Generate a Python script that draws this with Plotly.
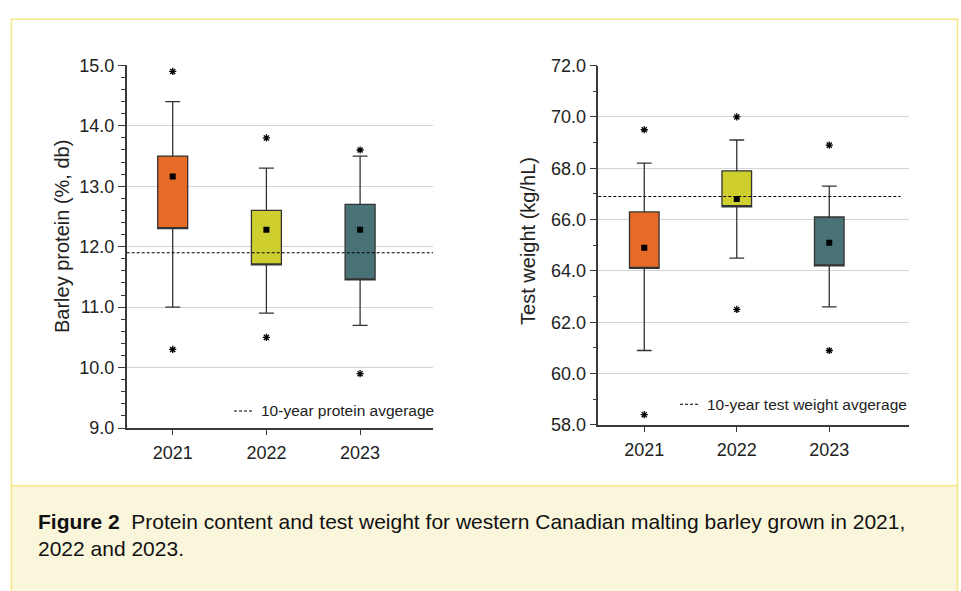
import plotly.graph_objects as go

# ---- data -------------------------------------------------------------
years = ["2021", "2022", "2023"]
box_colors = ["#E76B26", "#CECE2F", "#497276"]

# Barley protein (%, db)
prot_q1 = [12.3, 11.7, 11.45]
prot_q3 = [13.5, 12.6, 12.7]
prot_low = [11.0, 10.9, 10.7]
prot_high = [14.4, 13.3, 13.5]
prot_mean = [13.16, 12.28, 12.28]
prot_out_hi = [14.9, 13.8, 13.6]
prot_out_lo = [10.3, 10.5, 9.9]
prot_avg10 = 11.9

# Test weight (kg/hL)
tw_q1 = [64.1, 66.5, 64.2]
tw_q3 = [66.3, 67.9, 66.1]
tw_low = [60.9, 64.5, 62.6]
tw_high = [68.2, 69.1, 67.3]
tw_mean = [64.9, 66.8, 65.1]
tw_out_hi = [69.5, 70.0, 68.9]
tw_out_lo = [58.4, 62.5, 60.9]
tw_avg10 = 66.9

caption = ("<b>Figure 2</b>\u00a0 Protein content and test weight for western Canadian "
           "malting barley grown in 2021,<br>2022 and 2023.")

# ---- layout helpers ---------------------------------------------------
W, H = 961, 591
FONT = "Liberation Sans, Arial, sans-serif"
INK = "#222222"
AXIS = "#3a3a3a"


def fx(px):
    return px / W


def fy(py):
    return 1 - py / H


fig = go.Figure()

panels = [
    dict(xa="x", ya="y", q1=prot_q1, q3=prot_q3, lo=prot_low, hi=prot_high,
         mean=prot_mean, ohi=prot_out_hi, olo=prot_out_lo),
    dict(xa="x2", ya="y2", q1=tw_q1, q3=tw_q3, lo=tw_low, hi=tw_high,
         mean=tw_mean, ohi=tw_out_hi, olo=tw_out_lo),
]

for p in panels:
    for i, yr in enumerate(years):
        fig.add_trace(go.Box(
            x=[yr], q1=[p["q1"][i]], median=[p["q1"][i]], q3=[p["q3"][i]],
            lowerfence=[p["lo"][i]], upperfence=[p["hi"][i]],
            width=0.32, whiskerwidth=0.5, boxpoints=False,
            fillcolor=box_colors[i], line=dict(color="#333333", width=1.3),
            xaxis=p["xa"], yaxis=p["ya"], showlegend=False, hoverinfo="skip",
        ))
    fig.add_trace(go.Scatter(
        x=years, y=p["mean"], mode="markers",
        marker=dict(symbol="square", size=6, color="#000000"),
        xaxis=p["xa"], yaxis=p["ya"], showlegend=False,
    ))
    fig.add_trace(go.Scatter(
        x=years + years, y=p["ohi"] + p["olo"], mode="markers",
        marker=dict(symbol="asterisk-open", size=6, color="#000000",
                    line=dict(color="#000000", width=1.3)),
        xaxis=p["xa"], yaxis=p["ya"], showlegend=False,
    ))

# 10-year average reference lines
fig.add_shape(type="line", xref="x domain", yref="y", x0=0, x1=1,
              y0=prot_avg10, y1=prot_avg10,
              line=dict(color="#000000", width=1.2, dash="3px,2px"))
fig.add_shape(type="line", xref="x2 domain", yref="y2", x0=0, x1=0.973,
              y0=tw_avg10, y1=tw_avg10,
              line=dict(color="#000000", width=1.2, dash="3px,2px"))

# frame and caption panel
fig.add_shape(type="rect", xref="paper", yref="paper", layer="below",
              x0=fx(11.5), x1=fx(957.5), y0=fy(492.5), y1=fy(9.5),
              fillcolor="#FFFFFF", line=dict(color="#F3E683", width=1.5))
fig.add_shape(type="rect", xref="paper", yref="paper", layer="below",
              x0=fx(11.5), x1=fx(957.5), y0=fy(620), y1=fy(492.5),
              fillcolor="#FAF6DC", line=dict(color="#F3E683", width=1.5))

# legend keys
for (x0, x1, y) in [(234, 253, 415), (680, 698, 408)]:
    fig.add_shape(type="line", xref="paper", yref="paper",
                  x0=fx(x0), x1=fx(x1), y0=fy(y), y1=fy(y),
                  line=dict(color="#000000", width=1.1, dash="3px,2px"))

annotations = [
    dict(text="10-year protein avgerage", x=fx(258.5), y=fy(415),
         xanchor="left", yanchor="middle", font=dict(size=15.5)),
    dict(text="10-year test weight avgerage", x=fx(705), y=fy(408),
         xanchor="left", yanchor="middle", font=dict(size=15.5)),
    dict(text="Barley protein (%, db)", x=fx(62), y=fy(235), textangle=-90,
         xanchor="center", yanchor="middle", font=dict(size=20)),
    dict(text="Test weight (kg/hL)", x=fx(528), y=fy(239), textangle=-90,
         xanchor="center", yanchor="middle", font=dict(size=20)),
    dict(text=caption, x=fx(36), y=fy(515), xanchor="left", yanchor="top",
         align="left", font=dict(size=21, color="#111111")),
]
for a in annotations:
    a.update(xref="paper", yref="paper", showarrow=False)
    a["font"].setdefault("color", INK)
    a["font"]["family"] = FONT
    fig.add_annotation(**a)

xaxis_common = dict(
    type="category", showline=True, linecolor=AXIS, linewidth=1.5,
    ticks="outside", ticklen=5, tickwidth=1.3, tickcolor=AXIS,
    ticklabelstandoff=3,
    showgrid=False, zeroline=False, fixedrange=True,
    tickfont=dict(size=18, color=INK, family=FONT),
)
yaxis_common = dict(
    showline=True, linecolor=AXIS, linewidth=1.5,
    ticks="outside", ticklen=7, tickwidth=1.3, tickcolor=AXIS,
    showgrid=True, gridcolor="#D4D4D4", gridwidth=1, zeroline=False,
    tickformat=".1f", tickfont=dict(size=18, color=INK, family=FONT),
)

fig.update_layout(
    width=W, height=H, margin=dict(l=0, r=0, t=0, b=0),
    paper_bgcolor="#FFFFFF", plot_bgcolor="rgba(0,0,0,0)",
    showlegend=False, font=dict(family=FONT, color=INK),
    xaxis=dict(xaxis_common, domain=[fx(126.7), fx(433)], range=[-0.491, 2.778],
               anchor="y"),
    yaxis=dict(yaxis_common, domain=[fy(432.7), fy(57.3)], range=[9, 15], dtick=1,
               minor=dict(dtick=0.2, ticklen=4, tickwidth=1.2, tickcolor=AXIS,
                          ticks="outside", showgrid=False),
               anchor="x"),
    xaxis2=dict(xaxis_common, domain=[fx(598.3), fx(909)], range=[-0.497, 2.862],
                anchor="y2"),
    yaxis2=dict(yaxis_common, domain=[fy(429.5), fy(57.5)], range=[58, 72], dtick=2,
                minor=dict(dtick=1, ticklen=4, tickwidth=1.2, tickcolor=AXIS,
                           ticks="outside", showgrid=False),
                anchor="x2"),
)

fig.write_html("out.html")
